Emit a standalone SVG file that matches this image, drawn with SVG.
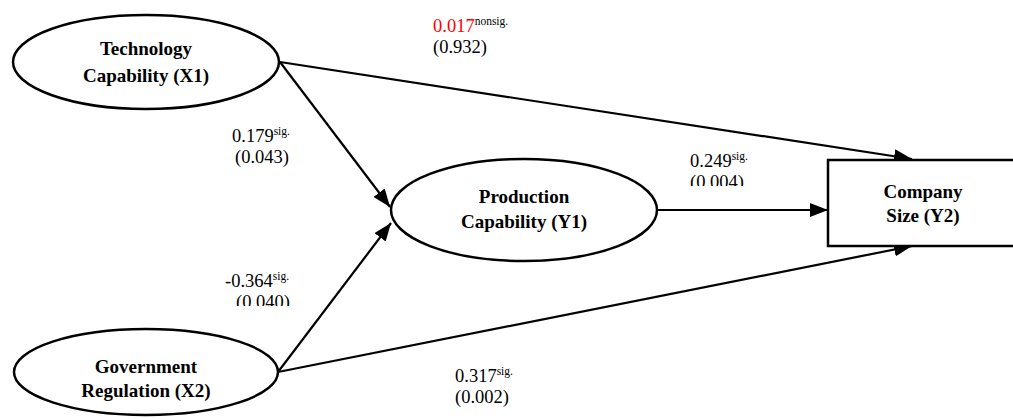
<svg xmlns="http://www.w3.org/2000/svg" width="1013" height="419" viewBox="0 0 1013 419">
<style>
.node{fill:#fff;stroke:#000;stroke-width:2.5}
.nt{font-family:"Liberation Serif","Times New Roman",serif;font-weight:bold;font-size:19px;text-anchor:middle;fill:#000}
.lb{font-family:"Liberation Serif","Times New Roman",serif;font-size:18.5px;fill:#000}
.sup{font-size:11.5px}
.edge{stroke:#000;stroke-width:2.2;fill:none;marker-end:url(#ah)}
</style>
<defs>
<marker id="ah" markerUnits="userSpaceOnUse" markerWidth="20" markerHeight="16" refX="18" refY="7" orient="auto">
<path d="M0,0 L18,7 L0,14 Z" fill="#000"/>
</marker>
<clipPath id="c1"><rect x="0" y="0" width="1013" height="186"/></clipPath>
<clipPath id="c2"><rect x="0" y="0" width="1013" height="306"/></clipPath>
</defs>
<g id="connectors">
<line class="edge" x1="280" y1="62" x2="912" y2="159"/>
<line class="edge" x1="280" y1="62" x2="390" y2="207"/>
<line class="edge" x1="278" y1="372" x2="391" y2="223"/>
<line class="edge" x1="278" y1="372" x2="912" y2="246"/>
<line class="edge" x1="657" y1="210" x2="828" y2="210"/>
</g>
<g id="tech">
<ellipse class="node" cx="146" cy="62" rx="133" ry="47"/>
<text class="nt" x="146" y="55">Technology</text>
<text class="nt" x="146" y="82">Capability (X1)</text>
</g>
<g id="gov">
<ellipse class="node" cx="146" cy="372" rx="132" ry="43"/>
<text class="nt" x="146" y="373">Government</text>
<text class="nt" x="146" y="397">Regulation (X2)</text>
</g>
<g id="prod">
<ellipse class="node" cx="524" cy="210" rx="133" ry="51"/>
<text class="nt" x="524" y="203">Production</text>
<text class="nt" x="524" y="228">Capability (Y1)</text>
</g>
<g id="company">
<rect class="node" x="828" y="160" width="200" height="86"/>
<text class="nt" x="923" y="198">Company</text>
<text class="nt" x="923" y="222">Size (Y2)</text>
</g>
<g id="labels">
<text class="lb" x="433" y="32"><tspan fill="#ff0000">0.017</tspan><tspan class="sup" dy="-7">nonsig.</tspan></text>
<text class="lb" x="433" y="53">(0.932)</text>
<text class="lb" x="232" y="142">0.179<tspan class="sup" dy="-7">sig.</tspan></text>
<text class="lb" x="235" y="163">(0.043)</text>
<text class="lb" x="225" y="287">-0.364<tspan class="sup" dy="-7">sig.</tspan></text>
<text class="lb" x="236" y="308" clip-path="url(#c2)">(0.040)</text>
<text class="lb" x="690" y="167">0.249<tspan class="sup" dy="-7">sig.</tspan></text>
<text class="lb" x="690" y="188" clip-path="url(#c1)">(0.004)</text>
<text class="lb" x="455" y="382">0.317<tspan class="sup" dy="-7">sig.</tspan></text>
<text class="lb" x="455" y="403">(0.002)</text>
</g>
</svg>
